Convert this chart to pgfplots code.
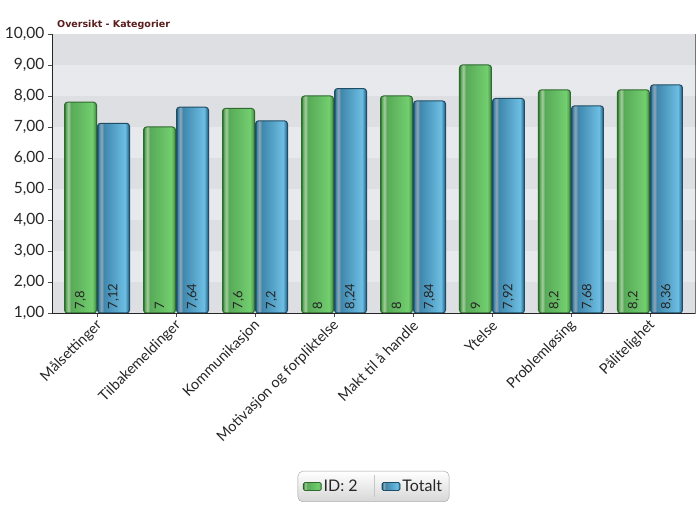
\documentclass[border=0pt]{standalone}
\usepackage{pgfplots}
\pgfplotsset{compat=1.18}
\usepackage{pgfplotstable}
\usepackage{fontspec}
\setmainfont{Lato}
\newfontfamily\titlefont{DejaVu Sans}

\definecolor{gdark}{HTML}{2F6A2F}
\definecolor{gstripe}{HTML}{A8CBA0}
\definecolor{gmid}{HTML}{58AA58}
\definecolor{glight}{HTML}{72CE6E}
\definecolor{bdark}{HTML}{1F4D66}
\definecolor{bstripe}{HTML}{93A6B4}
\definecolor{bmid}{HTML}{3F87AD}
\definecolor{blight}{HTML}{6DBDE2}
\definecolor{banddark}{HTML}{DEDFE3}
\definecolor{bandlight}{HTML}{E8E9EC}
\definecolor{gridc}{HTML}{BDBEC2}
\definecolor{titlec}{HTML}{5A1C1C}

\pgfdeclarehorizontalshading{greenbar}{100bp}{color(0bp)=(gdark); color(25bp)=(gdark);
  color(27bp)=(gmid); color(31bp)=(gstripe); color(35bp)=(gmid); color(68bp)=(glight);
  color(72bp)=(gmid); color(75bp)=(gdark); color(100bp)=(gdark)}
\pgfdeclarehorizontalshading{bluebar}{100bp}{color(0bp)=(bdark); color(25bp)=(bdark);
  color(27bp)=(bmid); color(31bp)=(bstripe); color(35bp)=(bmid); color(68bp)=(blight);
  color(72bp)=(bmid); color(75bp)=(bdark); color(100bp)=(bdark)}

\pgfplotstableread{
x a b
0 7.8 7.12
1 7 7.64
2 7.6 7.2
3 8 8.24
4 8 7.84
5 9 7.92
6 8.2 7.68
7 8.2 8.36
}\datatable

\pgfplotsset{
  greenbars/.style={shading=greenbar, draw=gdark, line width=1pt, rounded corners=3pt, bar shift=-16.5pt},
  bluebars/.style={shading=bluebar, draw=bdark, line width=1pt, rounded corners=3pt, bar shift=16.5pt},
  barlabels/.style={draw=none, fill=none, forget plot, nodes near coords, point meta=explicit,
    every node near coord/.append style={rotate=90, anchor=west, text=black!85,
      font=\fontsize{13}{15}\selectfont}},
}

\begin{document}
\begin{tikzpicture}
\begin{axis}[
  set layers,
  scale only axis, width=643pt, height=279pt,
  xmin=-0.57, xmax=7.57, ymin=1, ymax=10,
  ytick={1,...,10}, xtick={0,...,7},
  xticklabels={Målsettinger, Tilbakemeldinger, Kommunikasjon, Motivasjon og forpliktelse,
    Makt til å handle, Ytelse, Problemløsing, Pålitelighet},
  ybar, bar width=32pt,
  grid=major, grid style={gridc, line width=0.6pt},
  axis line style={black!55},
  tick pos=left, tick align=outside,
  major tick length=4pt, tick style={black!70},
  /pgf/number format/use comma,
  /pgf/number format/assume math mode=true,
  yticklabel style={/pgf/number format/fixed, /pgf/number format/fixed zerofill,
    /pgf/number format/precision=2, font=\fontsize{15.5}{18}\selectfont, text=black!85},
  xticklabel style={rotate=45, anchor=east, xshift=1pt, yshift=-6pt,
    font=\fontsize{14.5}{17}\selectfont, text=black!85},
  legend style={at={(rel axis cs:0.5,0)}, anchor=north, yshift=-158pt,
    legend columns=2, draw=gray!75, rounded corners=5pt,
    top color=white, bottom color=black!16,
    font=\fontsize{16}{19}\selectfont, text=black!85, inner xsep=5pt, inner ysep=4pt,
    /tikz/every even column/.append style={column sep=14pt}},
]
\fill[on layer=axis background, banddark] (rel axis cs:0,0) rectangle (rel axis cs:1,1);
\fill[on layer=axis background, bandlight] (axis cs:-1,2) rectangle (axis cs:8,3);
\fill[on layer=axis background, bandlight] (axis cs:-1,4) rectangle (axis cs:8,5);
\fill[on layer=axis background, bandlight] (axis cs:-1,6) rectangle (axis cs:8,7);
\fill[on layer=axis background, bandlight] (axis cs:-1,8) rectangle (axis cs:8,9);

\addlegendimage{legend image code/.code={\draw[shading=greenbar, draw=gdark, line width=0.8pt,
  rounded corners=1.5pt] (0pt,-4pt) rectangle (18pt,4pt);}}
\addlegendentry{ID: 2}
\addlegendimage{legend image code/.code={\draw[gray!45, line width=0.6pt] (-8pt,-11pt) -- (-8pt,11pt);
  \draw[shading=bluebar, draw=bdark, line width=0.8pt,
  rounded corners=1.5pt] (0pt,-4pt) rectangle (18pt,4pt);}}
\addlegendentry{Totalt}

% one plot per bar, so that every bar gets its own shading
\pgfplotsinvokeforeach{0,...,7}{
  \addplot[greenbars, forget plot, restrict x to domain=#1:#1] table[x=x, y=a] {\datatable};
  \addplot[bluebars, forget plot, restrict x to domain=#1:#1] table[x=x, y=b] {\datatable};
}

% value labels at the foot of each bar
\addplot[barlabels, bar shift=-16.5pt] table[x=x, y expr=1, meta=a] {\datatable};
\addplot[barlabels, bar shift=16.5pt] table[x=x, y expr=1, meta=b] {\datatable};

\coordinate (SW) at (rel axis cs:0,0);
\coordinate (SE) at (rel axis cs:1,0);
\coordinate (NW) at (rel axis cs:0,1);
\coordinate (NE) at (rel axis cs:1,1);
\end{axis}
\draw[black!85, line width=0.9pt] (NW) -- (SW) -- (SE);
\node[anchor=base west, inner sep=0pt, text=titlec, font=\titlefont\bfseries\fontsize{9.5}{11}\selectfont]
  at ([xshift=5pt, yshift=6pt]NW) {Oversikt - Kategorier};
\pgfresetboundingbox
\path ([shift={(-52pt,-192pt)}]SW) rectangle ([shift={(5pt,34pt)}]NE);
\end{tikzpicture}
\end{document}
